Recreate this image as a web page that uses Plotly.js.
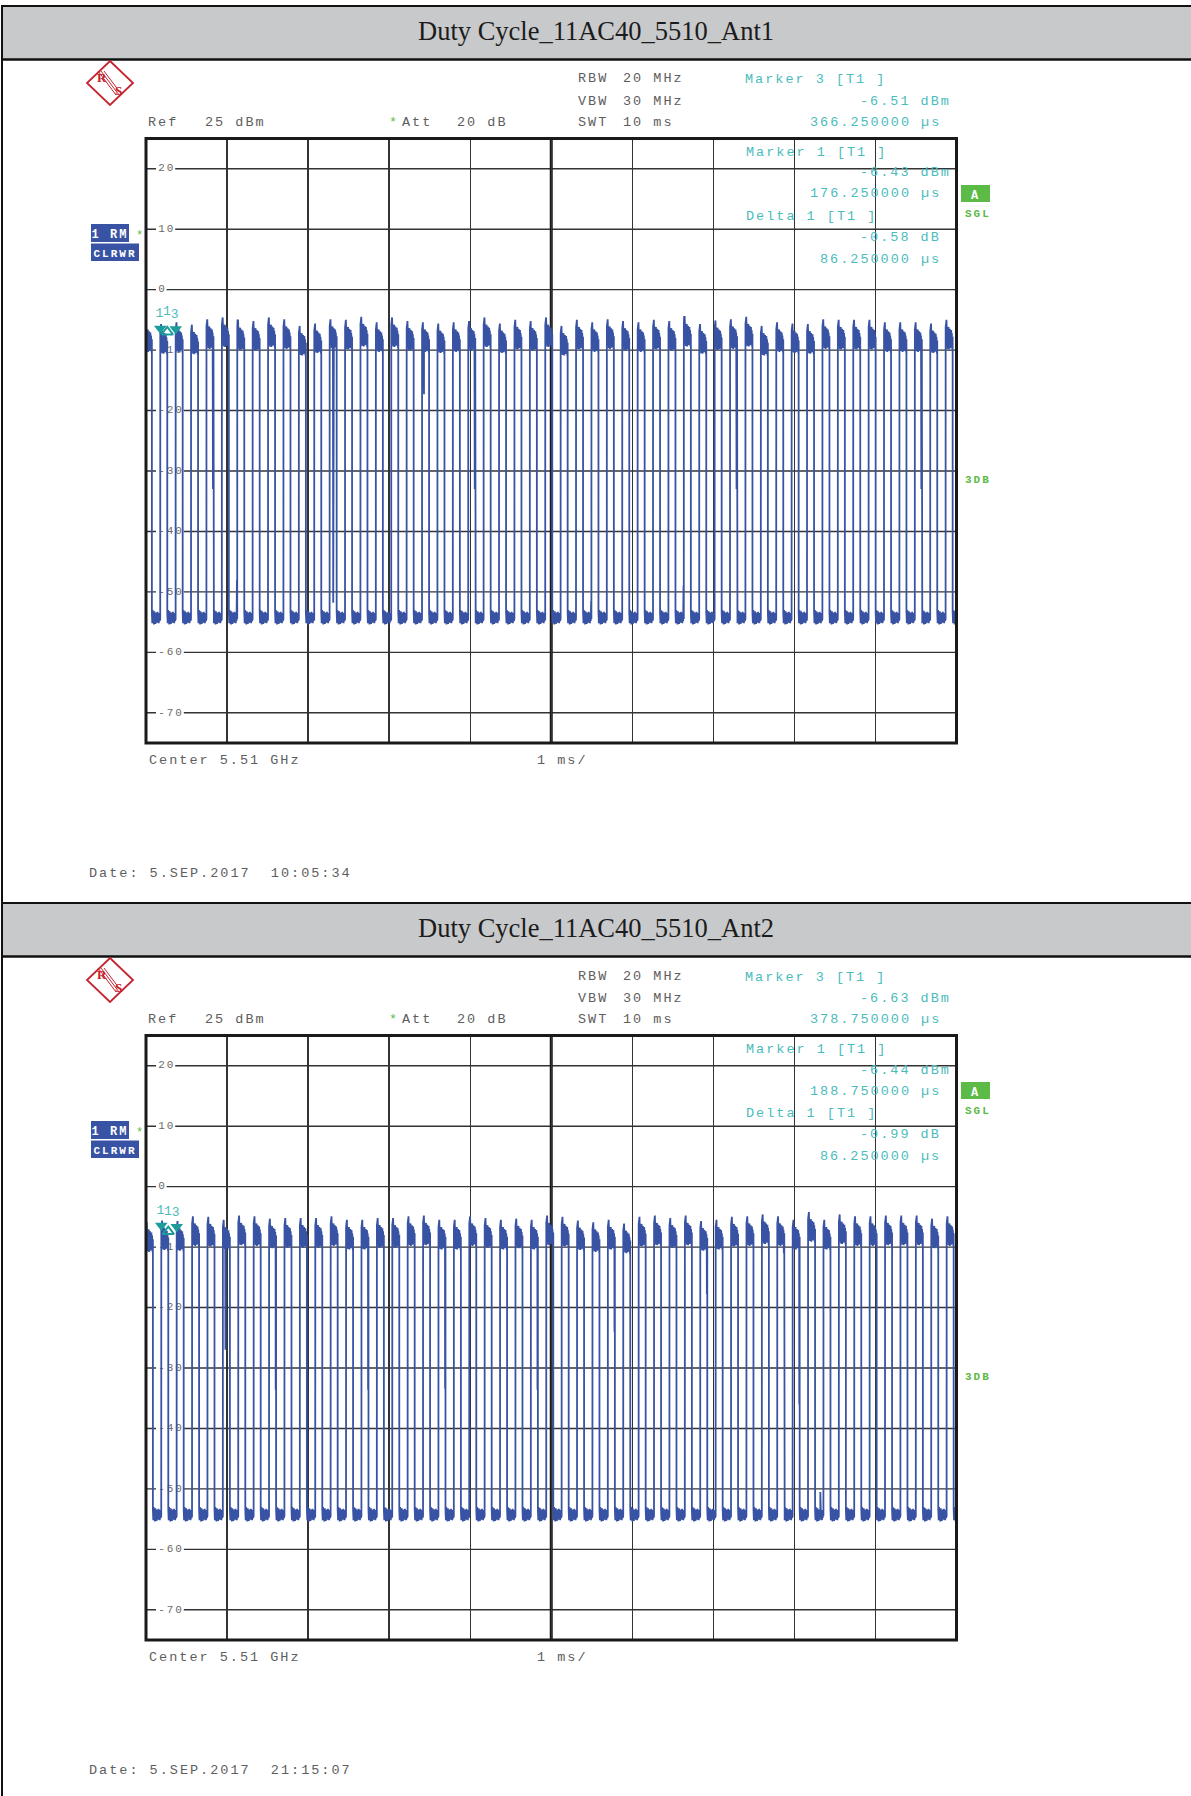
<!DOCTYPE html>
<html><head><meta charset="utf-8">
<script src="https://cdn.plot.ly/plotly-3.0.1.min.js"></script>
<style>
html,body{margin:0;padding:0;background:#fff;}
#chart{width:1191px;height:1796px;}
text[style*="Liberation Mono"]{letter-spacing:2px;}
</style>
</head><body><div id="chart"></div>
<script>
// ---------------- DATA ----------------
const panelTitles = ['Duty Cycle_11AC40_5510_Ant1', 'Duty Cycle_11AC40_5510_Ant2'];
const dateLabels = ['Date: 5.SEP.2017  10:05:34', 'Date: 5.SEP.2017  21:15:07'];
const marker1Time = [176.25, 188.75];     // µs
const marker1Level = [-6.43, -6.44];      // dBm
const marker3Time = [366.25, 378.75];     // µs
const marker3Level = [-6.51, -6.63];      // dBm
const deltaTime = [86.25, 86.25];         // µs (relative to marker 1)
const deltaLevel = [-0.58, -0.99];        // dB (relative to marker 1)
const yTickValues = [20, 10, 0, -10, -20, -30, -40, -50, -60, -70];
const pulseWidthUs = 86.25;

// pulse start times (µs) read from the sweeps
const ant1Starts = [-13.75,176.25,366.25,556.25,746.25,936.25,1126.25,1316.25,1506.25,1696.25,1886.25,2076.25,2266.25,2456.25,2646.25,2836.25,3026.25,3216.25,3406.25,3596.25,3786.25,3976.25,4166.25,4356.25,4546.25,4736.25,4926.25,5116.25,5306.25,5496.25,5686.25,5876.25,6066.25,6256.25,6446.25,6636.25,6826.25,7016.25,7206.25,7396.25,7586.25,7776.25,7966.25,8156.25,8346.25,8536.25,8726.25,8916.25,9106.25,9296.25,9486.25,9676.25,9866.25];
const ant2Starts = [-1.25,188.75,378.75,568.75,758.75,948.75,1138.75,1328.75,1518.75,1708.75,1898.75,2088.75,2278.75,2468.75,2658.75,2848.75,3038.75,3228.75,3418.75,3608.75,3798.75,3988.75,4178.75,4368.75,4558.75,4748.75,4938.75,5128.75,5318.75,5508.75,5698.75,5888.75,6078.75,6268.75,6458.75,6648.75,6838.75,7028.75,7218.75,7408.75,7598.75,7788.75,7978.75,8168.75,8358.75,8548.75,8738.75,8928.75,9118.75,9308.75,9498.75,9688.75,9878.75];
// peak level of each burst (dBm)
const ant1Peaks = [-5.4,-5.7,-5.4,-5.8,-4.9,-4.6,-5.1,-5.2,-4.6,-4.9,-6.0,-5.6,-4.9,-5.0,-4.5,-5.4,-4.6,-5.2,-5.4,-5.6,-5.4,-5.2,-4.6,-5.6,-5.0,-5.2,-4.6,
  -6.0,-5.0,-5.4,-4.9,-5.2,-5.4,-5.0,-5.2,-4.5,-5.7,-5.1,-4.9,-4.5,-6.0,-5.4,-5.6,-5.7,-4.9,-5.0,-5.0,-5.0,-5.4,-5.4,-5.4,-5.6,-5.0];
const ant2Peaks = [-5.9,-5.6,-5.7,-4.9,-5.0,-5.5,-4.8,-4.9,-5.3,-5.2,-5.2,-5.2,-4.9,-5.5,-5.5,-5.2,-5.2,-4.9,-4.8,-5.5,-5.5,-4.9,-5.2,-5.5,-5.3,-5.5,-4.8,
  -5.0,-5.6,-5.9,-5.5,-6.1,-5.0,-4.8,-5.2,-4.8,-5.7,-5.5,-5.0,-4.9,-4.6,-4.9,-5.5,-4.2,-5.5,-4.6,-4.9,-4.9,-4.8,-4.8,-4.8,-5.3,-4.9];
// shape of a burst top (µs after start, dB below the peak)
const onDt  = [0, 3, 10, 12, 16, 20, 24, 28, 32, 36, 40, 44, 48, 52, 56, 60, 64, 68, 72, 76, 80, 83, 86.25];
const onRel = [-1.2, 0, 0, -1.0, -4.5, -1.4, -4.8, -1.6, -4.6, -1.2, -4.9, -1.8, -4.4, -1.5, -4.7, -2.0, -4.2, -1.7, -4.6, -2.2, -4.0, -5.0, -2.8];
// noise floor between bursts (µs after burst end, dBm)
const offDt  = [0, 5, 10, 15, 20, 25, 30, 35, 40, 45, 50, 55, 60, 65, 70, 75, 80, 85, 90, 95, 100, 103];
const offLvl = [-53.4, -55.2, -53.0, -55.0, -53.6, -55.4, -53.2, -54.8, -53.8, -55.3, -53.4, -54.9, -53.7, -55.1, -53.3, -54.7, -53.9, -55.2, -53.5, -54.8, -53.9, -54.5];
// isolated samples caught on an edge (µs, dBm)
const ant1DipTimes  = [826, 1122, 2310, 3430, 4056, 5492, 6632, 7286, 9566];
const ant1DipLevels = [-33, -48, -51.8, -17.3, -33, -51.5, -49, -33, -33];
const ant2DipTimes  = [980, 1600, 2740, 3690, 4830, 5780, 6920, 7870, 8060, 8320];
const ant2DipLevels = [-27, -33.6, -33.6, -33.4, -33.6, -24, -17.8, -11, -36, -50.5];

// ---------------- BUILD ----------------
const W = 1191, H = 1796;
const px = x => x / W;
const py = y => 1 - y / H;
const GRAY = '#5e5e5e', TEAL = '#4bbcbc', TEAL_D = '#1e9c9c', GREEN = '#5cba47', BLUE = '#3953a4', RED = '#c4232f';
const MONO = 'Liberation Mono';
const LABEL_INSET_US = 150;   // level labels sit just inside the left edge of the grid

function buildTrace(starts, peaks, dipT, dipL) {
  const pts = [];
  for (let k = 0; k < starts.length; k++) {
    const s = starts[k], e = s + pulseWidthUs;
    for (let i = 0; i < onDt.length; i++) pts.push([s + onDt[i], peaks[k] + onRel[i]]);
    for (let j = 0; j < offDt.length; j++) pts.push([e + offDt[j], offLvl[j]]);
  }
  for (let d = 0; d < dipT.length; d++) pts.push([dipT[d], dipL[d]]);
  pts.sort((a, b) => a[0] - b[0]);
  return {x: pts.map(p => p[0]), y: pts.map(p => p[1])};
}

const sweeps = [
  buildTrace(ant1Starts, ant1Peaks, ant1DipTimes, ant1DipLevels),
  buildTrace(ant2Starts, ant2Peaks, ant2DipTimes, ant2DipLevels)
];

const PANEL_DY = 897;
const data = [], shapes = [], annotations = [];
const layout = {
  width: W, height: H, margin: {l: 0, r: 0, t: 0, b: 0},
  paper_bgcolor: '#ffffff', plot_bgcolor: 'rgba(0,0,0,0)', showlegend: false,
  shapes, annotations
};

function txt(x, y, text, o) {
  o = o || {};
  annotations.push({
    xref: 'paper', yref: 'paper', x: px(x), y: py(y), text: text, showarrow: false,
    xanchor: o.anchor || 'left', yanchor: 'middle', align: o.anchor === 'right' ? 'right' : (o.anchor === 'center' ? 'center' : 'left'),
    borderpad: 0,
    font: {family: o.family || MONO, size: o.size || 13.5, color: o.color || GRAY, weight: o.weight || 'normal'}
  });
}
function box(x0, y0, x1, y1, fill, label, lsize) {
  const s = {type: 'rect', xref: 'paper', yref: 'paper', x0: px(x0), x1: px(x1), y0: py(y1), y1: py(y0),
    fillcolor: fill, line: {width: 0}, layer: 'above'};
  if (label) s.label = {text: label, font: {family: MONO, size: lsize || 11, color: '#ffffff', weight: 'bold'}, textposition: 'middle center'};
  shapes.push(s);
}
function hline(y, w) {
  shapes.push({type: 'line', xref: 'paper', yref: 'paper', x0: px(1), x1: 1, y0: py(y), y1: py(y), line: {color: '#111', width: w}, layer: 'above'});
}
function pathPx(points, close) {
  return points.map((p, i) => (i ? 'L' : 'M') + px(p[0]).toFixed(5) + ',' + py(p[1]).toFixed(5)).join(' ') + (close ? ' Z' : '');
}

// left page border
shapes.push({type: 'line', xref: 'paper', yref: 'paper', x0: px(2), x1: px(2), y0: py(6), y1: 0, line: {color: '#111', width: 2}, layer: 'above'});

for (let p = 0; p < 2; p++) {
  const dy = p * PANEL_DY;
  const xa = p ? 'xaxis2' : 'xaxis', ya = p ? 'yaxis2' : 'yaxis';
  const xr = p ? 'x2' : 'x', yr = p ? 'y2' : 'y';

  // header band
  shapes.push({type: 'rect', xref: 'paper', yref: 'paper', x0: px(2), x1: 1, y0: py(59.5 + dy), y1: py(6 + dy),
    fillcolor: '#c8c9cb', line: {width: 0}, layer: 'below'});
  hline(6 + dy, 2);
  hline(59.5 + dy, 2.5);
  txt(595.5, 31 + dy, panelTitles[p], {anchor: 'center', family: 'Liberation Serif', size: 26.5, color: '#1c1c1c'});

  // axes
  layout[xa] = {domain: [px(146), px(956.5)], range: [0, 10000], anchor: yr,
    showgrid: true, gridcolor: '#333', gridwidth: 1.4, tick0: 0, dtick: 1000,
    showticklabels: false, ticks: '', zeroline: false, showline: false, fixedrange: true};
  layout[ya] = {domain: [py(743 + dy), py(138.5 + dy)], range: [-75, 25], anchor: xr,
    showgrid: false, tick0: 0, dtick: 10,
    showticklabels: false, ticks: '', zeroline: false, showline: false, fixedrange: true};

  // level grid lines, with a gap where the level is printed
  yTickValues.forEach(v => {
    shapes.push({type: 'line', xref: xr + ' domain', yref: yr, x0: 0, x1: 1, y0: v, y1: v,
      line: {color: '#333', width: 1.4}, layer: 'below'});
  });
  yTickValues.forEach(v => {
    const s = String(v);
    shapes.push({type: 'rect', xref: xr, yref: yr, xsizemode: 'pixel', xanchor: 0, x0: 10, x1: 12 + s.length * 8.6,
      ysizemode: 'pixel', yanchor: v, y0: -6, y1: 6, fillcolor: '#ffffff', line: {width: 0}, layer: 'below'});
  });
  // center division
  shapes.push({type: 'line', xref: xr, yref: yr + ' domain', x0: 5000, x1: 5000, y0: 0, y1: 1,
    line: {color: '#1a1a1a', width: 3}, layer: 'below'});
  // grid frame
  shapes.push({type: 'rect', xref: xr + ' domain', yref: yr + ' domain', x0: 0, x1: 1, y0: 0, y1: 1,
    line: {color: '#1a1a1a', width: 3}, fillcolor: 'rgba(0,0,0,0)', layer: 'above'});

  // level labels (drawn under the sweep)
  data.push({type: 'scatter', mode: 'text', xaxis: xr, yaxis: yr,
    x: yTickValues.map(() => LABEL_INSET_US), y: yTickValues, text: yTickValues.map(String),
    textposition: 'middle right', textfont: {family: MONO, size: 11, color: '#6a6a6a'},
    hoverinfo: 'skip', cliponaxis: false});

  // sweep trace
  data.push({type: 'scatter', mode: 'lines', x: sweeps[p].x, y: sweeps[p].y, xaxis: xr, yaxis: yr,
    line: {color: BLUE, width: 1.8}, hoverinfo: 'skip'});

  // markers
  data.push({type: 'scatter', mode: 'markers+text', xaxis: xr, yaxis: yr,
    x: [marker1Time[p], marker3Time[p]], y: [marker1Level[p], marker3Level[p]],
    text: ['1', '3'], textposition: 'top center',
    textfont: {family: MONO, size: 13, color: TEAL},
    marker: {symbol: 'triangle-down', size: 11, color: TEAL_D}, hoverinfo: 'skip', cliponaxis: false});
  const dT = marker1Time[p] + deltaTime[p], dL = marker1Level[p] + deltaLevel[p];
  data.push({type: 'scatter', mode: 'markers', xaxis: xr, yaxis: yr, x: [dT], y: [dL],
    marker: {symbol: 'triangle-up-open', size: 10, color: TEAL_D, line: {width: 2, color: TEAL_D}}, hoverinfo: 'skip'});
  annotations.push({xref: xr, yref: yr, x: dT, y: dL, text: '1', showarrow: false, yshift: 20, xshift: 1,
    font: {family: MONO, size: 13, color: TEAL}});

  // header readouts
  txt(577, 79 + dy, 'RBW'); txt(622, 79 + dy, '20 MHz');
  txt(577, 101 + dy, 'VBW'); txt(622, 101 + dy, '30 MHz');
  txt(577, 122 + dy, 'SWT'); txt(622, 122 + dy, '10 ms');
  txt(147, 122 + dy, 'Ref'); txt(204, 122 + dy, '25 dBm');
  txt(388, 122 + dy, '*', {color: GREEN}); txt(401, 122 + dy, 'Att'); txt(456, 122 + dy, '20 dB');
  txt(744, 80 + dy, 'Marker 3 [T1 ]', {color: TEAL});
  txt(952, 101 + dy, marker3Level[p].toFixed(2) + ' dBm', {color: TEAL, anchor: 'right'});
  txt(942, 122 + dy, marker3Time[p].toFixed(6) + ' µs', {color: TEAL, anchor: 'right'});
  txt(745, 152 + dy, 'Marker 1 [T1 ]', {color: TEAL});
  txt(952, 173 + dy, marker1Level[p].toFixed(2) + ' dBm', {color: TEAL, anchor: 'right'});
  txt(942, 194 + dy, marker1Time[p].toFixed(6) + ' µs', {color: TEAL, anchor: 'right'});
  txt(745, 216.5 + dy, 'Delta 1 [T1 ]', {color: TEAL});
  txt(942, 237.5 + dy, deltaLevel[p].toFixed(2) + ' dB', {color: TEAL, anchor: 'right'});
  txt(942, 259 + dy, deltaTime[p].toFixed(6) + ' µs', {color: TEAL, anchor: 'right'});

  // side badges
  box(91, 224 + dy, 129, 242 + dy, BLUE, '1 RM', 12);
  box(91, 243.5 + dy, 139, 261 + dy, BLUE, 'CLRWR', 11);
  txt(135, 236 + dy, '*', {color: GREEN, size: 12});
  box(961, 185 + dy, 990, 202 + dy, GREEN, 'A', 12);
  txt(964, 214 + dy, 'SGL', {color: GREEN, size: 11, weight: 'bold'});
  txt(964, 480 + dy, '3DB', {color: GREEN, size: 11, weight: 'bold'});

  // footer
  txt(148, 760 + dy, 'Center 5.51 GHz');
  txt(536, 760 + dy, '1 ms/');
  txt(88, 873 + dy, dateLabels[p]);

  // R&S logo
  const cx = 110, cy = 83 + dy;
  shapes.push({type: 'path', xref: 'paper', yref: 'paper', layer: 'above',
    path: pathPx([[cx, cy - 22], [cx + 23, cy], [cx, cy + 22], [cx - 23, cy]], true),
    line: {color: RED, width: 1.8}, fillcolor: 'rgba(0,0,0,0)'});
  [-3, 0, 3].forEach(o => {
    shapes.push({type: 'path', xref: 'paper', yref: 'paper', layer: 'above',
      path: pathPx([[cx - 9 + o, cy - 12], [cx + 9 + o, cy + 12]], false),
      line: {color: RED, width: 1}});
  });
  txt(cx - 8, cy - 6, 'R', {anchor: 'center', family: 'Liberation Serif', size: 13, color: RED, weight: 'bold'});
  txt(cx + 8, cy + 7, 'S', {anchor: 'center', family: 'Liberation Serif', size: 13, color: RED, weight: 'bold'});
}

Plotly.newPlot('chart', data, layout, {staticPlot: true, displayModeBar: false});
</script>
</body></html>
